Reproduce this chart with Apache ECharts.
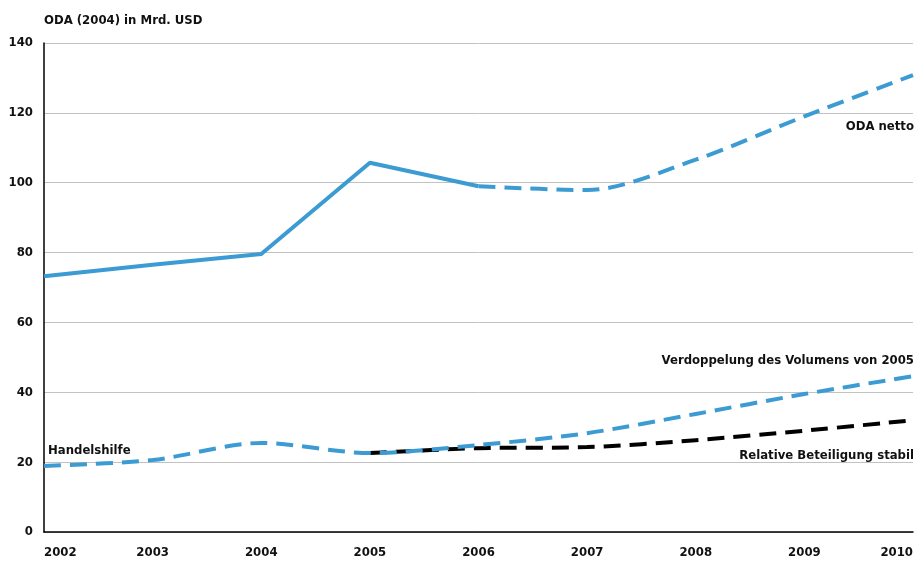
<!doctype html>
<html>
<head>
<meta charset="utf-8">
<style>
  html, body { margin: 0; padding: 0; background: #fff; }
  #main { width: 916px; height: 561px; }
</style>
</head>
<body>
<div id="main"></div>
<script src="https://cdn.jsdelivr.net/npm/echarts@6/dist/echarts.min.js"></script>
<script>
var years = ['2002', '2003', '2004', '2005', '2006', '2007', '2008', '2009', '2010'];
var odaIst = [73.2, 76.5, 79.6, 105.7, 99.0, null, null, null, null];
var odaPrognose = [null, null, null, null, 99.0, 97.9, 106.6, 119.0, 130.8];
var handelshilfe = [18.9, 20.6, 25.5, 22.6, 24.9, 28.3, 33.8, 39.5, 44.6];
var relativStabil = [null, null, null, 22.6, 24.0, 24.3, 26.3, 29.0, 32.0];

var blue = '#3b9bd2';
var font = '"DejaVu Sans Condensed", "Liberation Sans Narrow", sans-serif';
var dash = [17, 9];

var chart = echarts.init(document.getElementById('main'));

chart.setOption({
    animation: false,
    grid: { left: 44, right: 0, top: 43, bottom: 29 },
    xAxis: {
        type: 'category',
        data: years,
        boundaryGap: false,
        axisLine: { lineStyle: { color: '#000', width: 1.5 } },
        axisTick: { show: false },
        axisLabel: {
            color: '#111', fontFamily: font, fontWeight: 'bold', fontSize: 13,
            margin: 14, alignMinLabel: 'left', alignMaxLabel: 'right'
        },
        splitLine: { show: false }
    },
    yAxis: {
        type: 'value',
        min: 0, max: 140, interval: 20,
        axisLine: { show: true, lineStyle: { color: '#000', width: 1.5 } },
        axisTick: { show: false },
        axisLabel: { color: '#111', fontFamily: font, fontWeight: 'bold', fontSize: 13, margin: 11 },
        splitLine: { lineStyle: { color: '#c2c2c2', width: 1 } }
    },
    graphic: [
        { type: 'text', left: 44, top: 14, style: { text: 'ODA (2004) in Mrd. USD', font: 'bold 13px ' + font, fill: '#111' } },
        { type: 'text', right: 2, top: 120, style: { text: 'ODA netto', font: 'bold 13px ' + font, fill: '#111' } },
        { type: 'text', right: 2, top: 354, style: { text: 'Verdoppelung des Volumens von 2005', font: 'bold 13px ' + font, fill: '#111' } },
        { type: 'text', right: 2, top: 449, style: { text: 'Relative Beteiligung stabil', font: 'bold 13px ' + font, fill: '#111' } },
        { type: 'text', left: 48, top: 444, style: { text: 'Handelshilfe', font: 'bold 13px ' + font, fill: '#111' } }
    ],
    series: [
        {
            type: 'line', data: relativStabil, symbol: 'none', smooth: 0.3, z: 2,
            lineStyle: { color: '#000', width: 4, type: dash }
        },
        {
            type: 'line', data: handelshilfe, symbol: 'none', smooth: 0.3, z: 3,
            lineStyle: { color: blue, width: 4, type: dash }
        },
        {
            type: 'line', data: odaIst, symbol: 'none', z: 3,
            lineStyle: { color: blue, width: 4 }
        },
        {
            type: 'line', data: odaPrognose, symbol: 'none', smooth: 0.3, z: 3,
            lineStyle: { color: blue, width: 4, type: dash }
        }
    ]
});

window.onresize = chart.resize;
</script>
</body>
</html>
